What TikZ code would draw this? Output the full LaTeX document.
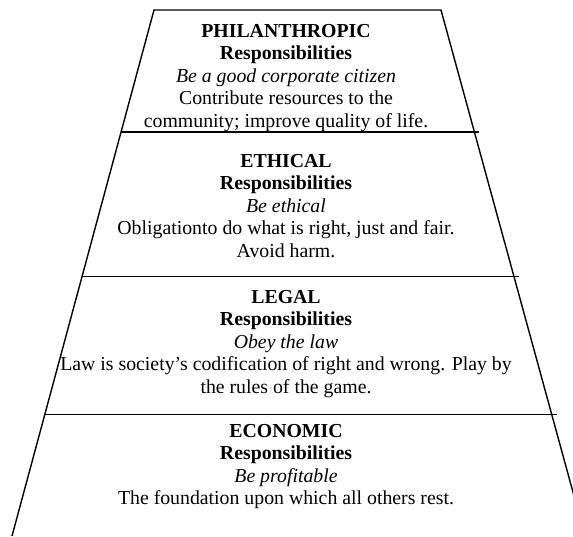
\documentclass[tikz,border=0pt]{standalone}
\usepackage{fontspec}
\setmainfont{Liberation Serif}
\usetikzlibrary{calc}

\begin{document}
\begin{tikzpicture}[
  x=1pt, y=-1pt,
  level/.style={align=center, anchor=north, inner sep=0pt,
    font=\fontsize{19.8}{22.5}\selectfont},
  edge/.style={line width=1.4pt},
]
  \useasboundingbox (0,0) rectangle (573,536);
  \clip (0,0) rectangle (573,536);
  \coordinate (tl) at (154,10);
  \coordinate (tr) at (441,10);
  \coordinate (bl) at (12,536);
  \coordinate (br) at (585,536);
  % pyramid outline, open at the bottom
  \draw[edge] (bl) -- (tl) -- (tr) -- (br);
  \foreach \t in {0.232,0.5067,0.769}
    \draw[edge, shorten >=-5pt] ($(tl)!\t!(bl)$) -- ($(tr)!\t!(br)$);

  \node[level] (philanthropic) at (286,24) {\textbf{PHILANTHROPIC}\\
    \textbf{Responsibilities}\\ \textit{Be a good corporate citizen}\\
    Contribute resources to the\\ community; improve quality of life.};
  \node[level] (ethical) at (286,154) {\textbf{ETHICAL}\\
    \textbf{Responsibilities}\\ \textit{Be ethical}\\
    Obligationto do what is right, just and fair.\\ Avoid harm.};
  \node[level] (legal) at (286,290) {\textbf{LEGAL}\\
    \textbf{Responsibilities}\\ \textit{Obey the law}\\
    Law is society’s codification of right and wrong. Play by\\ the rules of the game.};
  \node[level] (economic) at (286,424) {\textbf{ECONOMIC}\\
    \textbf{Responsibilities}\\ \textit{Be profitable}\\
    The foundation upon which all others rest.};
\end{tikzpicture}
\end{document}
